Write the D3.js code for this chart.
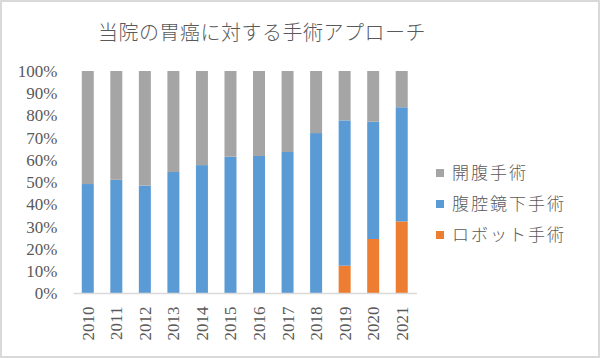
<!DOCTYPE html>
<html>
<head>
<meta charset="utf-8">
<script src="https://cdn.jsdelivr.net/npm/d3@7"></script>
<style>
  body { margin: 0; background: #fff; }
  svg { display: block; }
</style>
</head>
<body>
<div id="chart"></div>
<script>
// years on the x axis
var years = ['2010', '2011', '2012', '2013', '2014', '2015', '2016', '2017', '2018', '2019', '2020', '2021'];
// share of each approach, in percent
var robot = [0, 0, 0, 0, 0, 0, 0, 0, 0, 12.5, 24.5, 32.4];
var lapa = [49.2, 51.1, 48.5, 54.6, 57.7, 61.5, 61.8, 63.6, 72.1, 65.3, 52.7, 51.3];
var open = [50.8, 48.9, 51.5, 45.4, 42.3, 38.5, 38.2, 36.4, 27.9, 22.2, 22.8, 16.3];
var seriesNames = ['ロボット手術', '腹腔鏡下手術', '開腹手術'];
var yTicks = [0, 10, 20, 30, 40, 50, 60, 70, 80, 90, 100];
var title = '当院の胃癌に対する手術アプローチ';

var colors = {'開腹手術': '#a5a5a5', '腹腔鏡下手術': '#5b9bd5', 'ロボット手術': '#ed7d31'};
var textColor = '#595959';
var serif = '"Liberation Serif", "DejaVu Serif", serif';
var jp = '"Noto Sans CJK JP", sans-serif';

var W = 600, H = 358;
var svg = d3.select('#chart').append('svg')
  .attr('width', W)
  .attr('height', H);

svg.append('rect')
  .attr('x', 1).attr('y', 1)
  .attr('width', W - 2).attr('height', H - 2)
  .attr('fill', '#fff')
  .attr('stroke', '#d9d9d9')
  .attr('stroke-width', 2);

var margin = {top: 71, left: 73.5, right: 184, bottom: 64.5};
var x = d3.scaleBand()
  .domain(years)
  .range([margin.left, W - margin.right])
  .paddingInner(0.58)
  .paddingOuter(0.29);
var y = d3.scaleLinear()
  .domain([0, 100])
  .range([H - margin.bottom, margin.top]);

var rows = years.map(function (yr, i) {
  return {year: yr, 'ロボット手術': robot[i], '腹腔鏡下手術': lapa[i], '開腹手術': open[i]};
});
var stacked = d3.stack().keys(seriesNames)(rows);

svg.append('g').selectAll('g')
  .data(stacked)
  .enter().append('g')
  .attr('fill', function (d) { return colors[d.key]; })
  .selectAll('rect')
  .data(function (d) { return d; })
  .enter().append('rect')
  .attr('x', function (d) { return x(d.data.year); })
  .attr('width', x.bandwidth())
  .attr('y', function (d) { return y(Math.min(d[1], 100)); })
  .attr('height', function (d) { return y(d[0]) - y(Math.min(d[1], 100)); });

// y axis
var yAxis = svg.append('g')
  .attr('transform', 'translate(' + margin.left + ',0)')
  .call(d3.axisLeft(y).tickValues(yTicks).tickSize(0).tickPadding(16)
    .tickFormat(function (d) { return d + '%'; }));
yAxis.select('.domain').remove();
yAxis.selectAll('text')
  .attr('fill', textColor)
  .style('font-family', serif)
  .style('font-size', '17px');

// x axis
var xAxis = svg.append('g')
  .attr('transform', 'translate(0,' + y(0) + ')')
  .call(d3.axisBottom(x).tickSize(0).tickPadding(0));
xAxis.select('.domain')
  .attr('stroke', '#d9d9d9')
  .attr('stroke-width', 1.5)
  .attr('d', 'M' + margin.left + ',0H' + (W - margin.right + 1));
xAxis.selectAll('text')
  .attr('fill', textColor)
  .style('font-family', serif)
  .style('font-size', '17px')
  .attr('transform', 'rotate(-90)')
  .attr('text-anchor', 'end')
  .attr('x', -13)
  .attr('y', 0)
  .attr('dy', '0.35em');

// title
svg.append('text')
  .attr('x', 262)
  .attr('y', 40)
  .attr('text-anchor', 'middle')
  .attr('fill', textColor)
  .style('font-family', jp)
  .style('font-size', '20px')
  .style('font-weight', 300)
  .style('letter-spacing', '0.5px')
  .text(title);

// legend
var legendItems = ['開腹手術', '腹腔鏡下手術', 'ロボット手術'];
var legend = svg.append('g').selectAll('g')
  .data(legendItems)
  .enter().append('g')
  .attr('transform', function (d, i) { return 'translate(436,' + (173 + i * 31) + ')'; });
legend.append('rect')
  .attr('x', 0).attr('y', -4)
  .attr('width', 8).attr('height', 8)
  .attr('fill', function (d) { return colors[d]; });
legend.append('text')
  .attr('x', 16)
  .attr('dy', '0.35em')
  .attr('fill', textColor)
  .style('font-family', jp)
  .style('font-size', '17px')
  .style('font-weight', 300)
  .style('letter-spacing', '2px')
  .text(function (d) { return d; });
</script>
</body>
</html>
